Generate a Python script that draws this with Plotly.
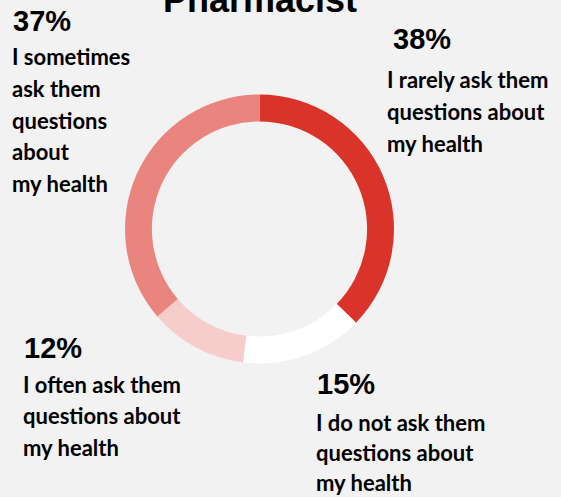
import plotly.graph_objects as go

W, H = 561, 497

categories = [
    "I rarely ask them<br>questions about<br>my health",
    "I do not ask them<br>questions about<br>my health",
    "I often ask them<br>questions about<br>my health",
    "I sometimes<br>ask them<br>questions<br>about<br>my health",
]
values = [38, 15, 12, 37]
pct_labels = ["38%", "15%", "12%", "37%"]
colors = ["#da3329", "#ffffff", "#f7cdcc", "#ea847e"]
title_text = "Pharmacist"

# label anchor positions in pixels:
# (left x of percent, left x of text, centre y of percent, centre y of first text line, line gap)
label_pos = [
    (391, 386, 39, 80, 31.5),
    (315, 315, 384, 422, 30),
    (22, 22, 348, 384, 31.5),
    (11, 11, 21, 57, 31.5),
]

bg = "#f2f2f2"

# donut geometry
cx, cy, r = 259.5, 229, 134.5

fig = go.Figure()
fig.add_trace(go.Pie(
    values=values,
    labels=[c.replace("<br>", " ") for c in categories],
    marker=dict(colors=colors, line=dict(width=0)),
    hole=0.8,
    sort=False,
    direction="clockwise",
    rotation=0,
    textinfo="none",
    hoverinfo="label+percent",
    showlegend=False,
    domain=dict(x=[(cx - r) / W, (cx + r) / W], y=[1 - (cy + r) / H, 1 - (cy - r) / H]),
))

def px(x):
    return x / W

def py(y):
    return 1 - y / H

annotations = []
for cat, pct, (plx, tlx, pyc, ty, gap) in zip(categories, pct_labels, label_pos):
    annotations.append(dict(
        text=pct, x=px(plx), y=py(pyc), xref="paper", yref="paper",
        xanchor="left", yanchor="middle", showarrow=False,
        font=dict(family="Liberation Sans, Arial", size=29, color="#000000", weight="bold"),
    ))
    for i, line in enumerate(cat.split("<br>")):
        annotations.append(dict(
            text=line, x=px(tlx), y=py(ty + i * gap), xref="paper", yref="paper",
            xanchor="left", yanchor="middle", showarrow=False, borderpad=0,
            font=dict(family="Lato", size=22, color="#000000", weight="bold"),
        ))

annotations.append(dict(
    text=title_text, x=px(259.5), y=py(-1), xref="paper", yref="paper",
    xanchor="center", yanchor="middle", showarrow=False,
    font=dict(family="Liberation Sans, Arial", size=36, color="#000000", weight="bold"),
))

fig.update_layout(
    width=W, height=H,
    margin=dict(l=0, r=0, t=0, b=0),
    paper_bgcolor=bg, plot_bgcolor=bg,
    annotations=annotations,
)

fig.write_html("out.html")
